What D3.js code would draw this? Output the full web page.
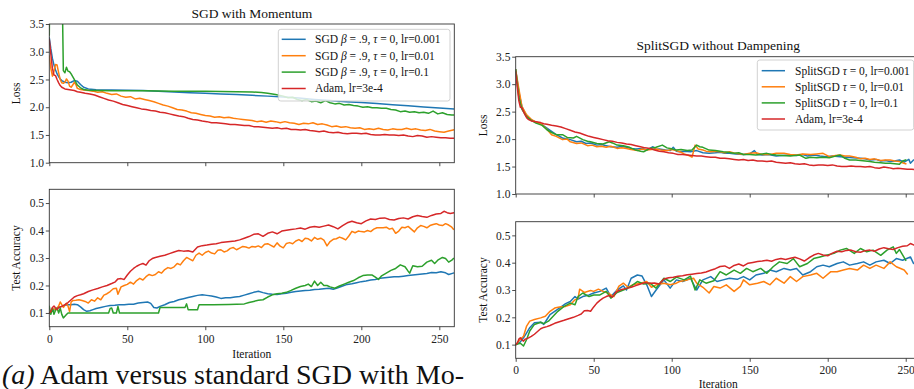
<!DOCTYPE html>
<html>
<head>
<meta charset="utf-8">
<script src="https://cdn.jsdelivr.net/npm/d3@7"></script>
<style>
  html, body { margin: 0; padding: 0; background: #fff; }
  svg { display: block; }
  svg text { font-family: "Liberation Serif", "Times New Roman", Times, serif; }
</style>
</head>
<body>
<svg id="fig" width="914" height="389"></svg>
<script>
// ---------- data ----------
const xTicks = [0, 50, 100, 150, 200, 250];
const lossTicks = [1.0, 1.5, 2.0, 2.5, 3.0, 3.5];
const accTicks = [0.1, 0.2, 0.3, 0.4, 0.5];

const momTitle = "SGD with Momentum";
const splitTitle = "SplitSGD without Dampening";
const momLabels = ["SGD β = .9, τ = 0, lr=0.001", "SGD β = .9, τ = 0, lr=0.01", "SGD β = .9, τ = 0, lr=0.1", "Adam, lr=3e-4"];
const splitLabels = ["SplitSGD τ = 0, lr=0.001", "SplitSGD τ = 0, lr=0.01", "SplitSGD τ = 0, lr=0.1", "Adam, lr=3e-4"];
const caption = ["(a)", " Adam versus standard SGD with Mo-"];

// Adam baseline (shared by both figures): [iteration, value]
const adamLoss = [[0,3.22],[1,2.95],[2,2.7],[3,2.58],[4,2.57],[5,2.5],[6,2.44],[7,2.39],[8,2.36],[10,2.33],[12,2.32],[14,2.31],[16,2.3],[18,2.28],[20,2.27],[23,2.25],[26,2.24],[29,2.22],[32,2.19],[35,2.16],[38,2.13],[41,2.11],[44,2.08],[47,2.05],[50,2.03],[53,2.01],[56,1.99],[59,1.97],[62,1.96],[65,1.94],[68,1.93],[71,1.91],[74,1.9],[77,1.88],[80,1.86],[83,1.84],[86,1.83],[89,1.8],[92,1.78],[95,1.77],[98,1.75],[101,1.74],[104,1.72],[107,1.72],[110,1.71],[113,1.7],[116,1.69],[119,1.69],[122,1.68],[125,1.67],[128,1.67],[131,1.65],[134,1.65],[137,1.64],[140,1.63],[143,1.62],[146,1.63],[149,1.61],[152,1.62],[155,1.6],[158,1.6],[161,1.59],[164,1.6],[167,1.58],[170,1.57],[173,1.56],[176,1.57],[179,1.55],[182,1.54],[185,1.55],[188,1.53],[191,1.52],[194,1.53],[197,1.53],[200,1.52],[203,1.53],[206,1.51],[209,1.5],[212,1.5],[215,1.51],[218,1.5],[221,1.5],[224,1.49],[227,1.5],[230,1.48],[233,1.47],[236,1.49],[239,1.48],[242,1.46],[245,1.47],[248,1.46],[251,1.45],[254,1.45],[257,1.44],[259,1.44]];
const adamAcc = [[0,0.1],[1,0.105],[2,0.12],[3,0.125],[4,0.118],[5,0.113],[6,0.12],[8,0.124],[10,0.13],[12,0.138],[14,0.148],[16,0.158],[18,0.163],[20,0.166],[22,0.17],[25,0.178],[28,0.184],[31,0.189],[34,0.195],[37,0.2],[40,0.207],[42,0.212],[44,0.224],[46,0.225],[48,0.222],[50,0.238],[52,0.252],[54,0.262],[56,0.27],[58,0.276],[60,0.28],[62,0.274],[64,0.29],[66,0.298],[68,0.302],[71,0.306],[74,0.31],[77,0.316],[80,0.322],[83,0.327],[86,0.325],[89,0.326],[92,0.322],[95,0.34],[98,0.345],[101,0.347],[104,0.35],[107,0.352],[110,0.356],[113,0.358],[116,0.36],[119,0.362],[122,0.366],[125,0.372],[128,0.378],[131,0.386],[134,0.388],[137,0.379],[140,0.39],[143,0.395],[146,0.388],[149,0.398],[152,0.401],[155,0.404],[158,0.406],[161,0.409],[164,0.405],[167,0.412],[170,0.415],[173,0.412],[176,0.416],[179,0.42],[182,0.414],[185,0.406],[188,0.418],[191,0.428],[194,0.434],[197,0.428],[200,0.425],[203,0.435],[206,0.442],[209,0.44],[212,0.445],[215,0.446],[218,0.44],[221,0.438],[224,0.444],[227,0.446],[230,0.442],[233,0.45],[236,0.455],[239,0.451],[242,0.448],[245,0.455],[248,0.46],[251,0.462],[253,0.47],[255,0.465],[257,0.462],[259,0.464]];

// SGD with momentum, beta = .9
const momLoss001 = [[0,3.25],[1,3.05],[2,2.88],[3,2.76],[4,2.67],[5,2.6],[6,2.55],[7,2.51],[8,2.48],[10,2.45],[12,2.44],[14,2.45],[16,2.48],[18,2.47],[20,2.41],[22,2.36],[25,2.33],[30,2.315],[40,2.31],[50,2.305],[60,2.3],[70,2.29],[80,2.275],[90,2.26],[100,2.25],[110,2.24],[120,2.23],[130,2.215],[140,2.2],[150,2.185],[160,2.165],[170,2.14],[180,2.12],[190,2.1],[200,2.085],[210,2.065],[220,2.045],[230,2.025],[240,2.005],[250,1.985],[259,1.97]];
const momLoss01 = [[0,2.92],[1,2.7],[2,2.56],[3,2.65],[4,2.77],[5,2.76],[6,2.62],[7,2.5],[8,2.44],[9,2.43],[10,2.45],[11,2.51],[12,2.47],[13,2.38],[14,2.36],[15,2.4],[16,2.45],[17,2.41],[18,2.34],[20,2.32],[22,2.31],[25,2.3],[28,2.29],[31,2.27],[34,2.28],[37,2.25],[40,2.23],[43,2.24],[46,2.2],[49,2.18],[52,2.19],[55,2.15],[58,2.16],[61,2.14],[64,2.12],[67,2.1],[70,2.07],[73,2.04],[76,2.02],[79,1.99],[82,1.96],[85,1.95],[88,1.93],[91,1.9],[94,1.89],[97,1.87],[100,1.85],[103,1.84],[106,1.82],[109,1.83],[112,1.81],[115,1.82],[118,1.8],[121,1.79],[124,1.78],[127,1.77],[130,1.76],[133,1.74],[136,1.75],[139,1.73],[142,1.75],[145,1.74],[148,1.72],[151,1.74],[154,1.72],[157,1.71],[160,1.69],[163,1.71],[166,1.7],[169,1.72],[172,1.69],[175,1.7],[178,1.68],[181,1.65],[184,1.66],[187,1.64],[190,1.65],[193,1.63],[196,1.62],[199,1.63],[202,1.6],[205,1.61],[208,1.6],[211,1.62],[214,1.6],[217,1.59],[220,1.61],[223,1.6],[226,1.6],[229,1.62],[232,1.6],[235,1.61],[238,1.59],[241,1.58],[244,1.6],[247,1.57],[250,1.56],[253,1.55],[256,1.57],[259,1.59]];
const momLoss1 = [[0,3.3],[1,6.2],[2,8.5],[4,7.9],[6,6.8],[8,4.6],[9,2.66],[10,2.62],[11,2.72],[12,2.65],[13,2.64],[14,2.6],[15,2.55],[16,2.5],[17,2.45],[18,2.4],[20,2.35],[22,2.32],[25,2.305],[30,2.3],[40,2.295],[60,2.295],[80,2.29],[100,2.29],[120,2.28],[130,2.275],[136,2.265],[140,2.25],[145,2.23],[150,2.2],[153,2.17],[156,2.18],[159,2.14],[162,2.12],[165,2.14],[168,2.1],[171,2.11],[174,2.08],[177,2.12],[180,2.08],[183,2.06],[186,2.07],[189,2.04],[192,2.05],[195,2.03],[198,2.02],[201,2.0],[204,2.01],[207,1.99],[210,1.99],[213,1.98],[216,1.98],[219,1.96],[222,1.95],[225,1.92],[228,1.93],[231,1.91],[234,1.92],[237,1.9],[240,1.91],[243,1.89],[246,1.93],[249,1.88],[252,1.9],[255,1.87],[258,1.86],[259,1.86]];
const momAcc001 = [[0,0.1],[2,0.108],[4,0.115],[6,0.12],[8,0.124],[10,0.128],[12,0.13],[14,0.13],[16,0.132],[18,0.13],[20,0.122],[22,0.112],[24,0.106],[26,0.108],[28,0.112],[30,0.116],[33,0.12],[36,0.124],[39,0.127],[42,0.128],[45,0.13],[48,0.13],[51,0.132],[54,0.132],[57,0.136],[60,0.138],[63,0.14],[65,0.135],[67,0.12],[69,0.118],[71,0.124],[74,0.13],[77,0.138],[80,0.142],[83,0.148],[86,0.152],[89,0.156],[92,0.16],[95,0.164],[98,0.166],[101,0.164],[104,0.162],[107,0.158],[110,0.153],[113,0.155],[116,0.155],[119,0.158],[122,0.16],[125,0.165],[128,0.17],[131,0.175],[134,0.179],[137,0.174],[140,0.17],[143,0.168],[146,0.167],[149,0.17],[152,0.172],[155,0.175],[158,0.178],[161,0.18],[164,0.182],[167,0.183],[170,0.185],[173,0.186],[176,0.188],[179,0.19],[182,0.186],[185,0.192],[188,0.198],[191,0.204],[194,0.206],[197,0.21],[200,0.214],[203,0.216],[206,0.22],[209,0.222],[212,0.226],[215,0.228],[218,0.23],[221,0.232],[224,0.232],[227,0.234],[230,0.236],[233,0.238],[236,0.24],[239,0.242],[242,0.244],[245,0.247],[248,0.246],[251,0.25],[254,0.246],[256,0.24],[259,0.245]];
const momAcc01 = [[0,0.1],[1,0.108],[2,0.112],[3,0.115],[4,0.11],[5,0.118],[6,0.125],[7,0.14],[8,0.13],[9,0.12],[10,0.128],[11,0.135],[12,0.125],[13,0.105],[14,0.14],[15,0.145],[17,0.146],[19,0.148],[21,0.145],[23,0.142],[25,0.136],[27,0.148],[29,0.143],[31,0.155],[33,0.148],[35,0.165],[37,0.17],[39,0.178],[41,0.188],[43,0.19],[44,0.168],[46,0.195],[48,0.2],[50,0.204],[52,0.212],[54,0.205],[56,0.218],[58,0.226],[60,0.22],[62,0.232],[64,0.24],[66,0.236],[68,0.24],[70,0.25],[72,0.245],[74,0.258],[76,0.265],[78,0.262],[80,0.268],[82,0.28],[84,0.275],[86,0.29],[88,0.302],[90,0.296],[92,0.29],[94,0.31],[96,0.318],[98,0.31],[100,0.32],[102,0.325],[104,0.318],[106,0.315],[108,0.328],[110,0.33],[112,0.322],[114,0.326],[116,0.335],[118,0.338],[120,0.33],[122,0.336],[124,0.342],[126,0.34],[128,0.336],[130,0.342],[132,0.34],[134,0.344],[136,0.338],[138,0.35],[140,0.352],[142,0.346],[144,0.34],[146,0.355],[148,0.343],[150,0.337],[152,0.353],[154,0.356],[156,0.352],[158,0.362],[160,0.367],[162,0.36],[164,0.372],[166,0.37],[168,0.362],[170,0.375],[172,0.368],[174,0.372],[176,0.365],[178,0.344],[180,0.36],[182,0.368],[184,0.37],[186,0.376],[188,0.372],[190,0.366],[192,0.38],[194,0.397],[196,0.392],[198,0.398],[200,0.396],[202,0.395],[204,0.4],[206,0.396],[208,0.405],[210,0.41],[212,0.41],[214,0.41],[216,0.412],[218,0.405],[220,0.408],[222,0.39],[224,0.398],[226,0.412],[228,0.41],[230,0.415],[232,0.405],[234,0.395],[236,0.41],[238,0.418],[240,0.415],[242,0.41],[244,0.418],[246,0.422],[248,0.425],[250,0.42],[252,0.418],[254,0.425],[256,0.42],[258,0.412],[259,0.405]];
const momAcc1 = [[0,0.124],[1,0.095],[2,0.118],[3,0.095],[4,0.11],[5,0.118],[6,0.1],[7,0.118],[8,0.095],[9,0.082],[10,0.088],[11,0.094],[12,0.1],[14,0.1],[38,0.1],[39,0.116],[40,0.118],[41,0.1],[43,0.1],[44,0.124],[45,0.1],[70,0.1],[71,0.12],[87,0.12],[88,0.133],[89,0.112],[95,0.112],[96,0.13],[105,0.13],[115,0.131],[125,0.133],[128,0.138],[131,0.142],[134,0.146],[137,0.148],[140,0.158],[143,0.166],[146,0.17],[149,0.172],[152,0.175],[155,0.182],[158,0.19],[161,0.196],[164,0.2],[166,0.205],[168,0.196],[170,0.216],[172,0.2],[174,0.212],[176,0.2],[178,0.2],[180,0.195],[183,0.19],[186,0.198],[189,0.205],[192,0.212],[195,0.218],[198,0.228],[201,0.236],[204,0.238],[207,0.238],[209,0.23],[211,0.222],[213,0.235],[216,0.245],[219,0.255],[222,0.262],[225,0.275],[228,0.268],[230,0.252],[231,0.245],[233,0.272],[236,0.268],[239,0.27],[242,0.285],[245,0.292],[247,0.28],[249,0.292],[252,0.302],[254,0.298],[256,0.285],[258,0.292],[259,0.298]];

// SplitSGD without dampening
const splitLoss001 = [[0,3.26],[2,2.86],[4,2.59],[7,2.42],[10,2.35],[13,2.31],[17,2.26],[20,2.2],[23,2.14],[26,2.08],[30,2.02],[35,1.99],[39,1.95],[42,1.96],[45,1.92],[48,1.93],[52,1.89],[55,1.9],[58,1.88],[61,1.86],[65,1.85],[68,1.87],[71,1.85],[74,1.83],[77,1.82],[81,1.83],[84,1.8],[88,1.86],[90,1.81],[92,1.82],[96,1.8],[99,1.79],[101,1.85],[103,1.78],[105,1.77],[108,1.78],[112,1.77],[116,1.79],[120,1.75],[124,1.74],[128,1.75],[131,1.76],[134,1.74],[137,1.74],[141,1.73],[146,1.72],[150,1.73],[153,1.79],[155,1.72],[158,1.71],[162,1.72],[167,1.69],[171,1.7],[176,1.71],[180,1.7],[184,1.72],[187,1.69],[191,1.71],[195,1.69],[199,1.68],[203,1.69],[208,1.68],[212,1.67],[216,1.66],[221,1.65],[224,1.64],[227,1.62],[231,1.63],[234,1.6],[237,1.61],[240,1.59],[243,1.6],[246,1.62],[249,1.58],[252,1.63],[253,1.56],[255,1.62],[259,1.61]];
const splitLoss01 = [[0,3.26],[2,2.92],[4,2.59],[7,2.44],[10,2.36],[13,2.31],[17,2.26],[20,2.18],[23,2.08],[26,2.05],[30,1.99],[33,2.0],[35,1.95],[39,1.92],[42,1.93],[46,1.88],[49,1.89],[52,1.86],[55,1.87],[58,1.85],[61,1.87],[65,1.83],[68,1.84],[71,1.83],[74,1.81],[78,1.79],[81,1.82],[84,1.8],[87,1.81],[90,1.82],[93,1.8],[97,1.79],[100,1.81],[103,1.79],[106,1.76],[108,1.73],[111,1.7],[113,1.67],[115,1.89],[117,1.82],[120,1.8],[122,1.78],[125,1.77],[128,1.78],[131,1.77],[134,1.75],[137,1.77],[141,1.74],[146,1.72],[150,1.74],[154,1.75],[158,1.72],[163,1.72],[167,1.74],[172,1.74],[176,1.72],[180,1.71],[184,1.73],[189,1.72],[193,1.73],[197,1.74],[201,1.68],[205,1.7],[208,1.71],[211,1.69],[214,1.69],[218,1.67],[221,1.64],[224,1.65],[227,1.63],[230,1.64],[234,1.61],[237,1.62],[240,1.62],[243,1.6],[246,1.59],[248,1.57],[250,1.55]];
const splitLoss1 = [[0,3.26],[2,2.77],[4,2.54],[7,2.41],[10,2.34],[13,2.29],[17,2.25],[20,2.17],[23,2.12],[26,2.08],[30,2.08],[33,2.03],[37,2.02],[39,2.05],[43,1.99],[46,1.96],[48,1.95],[52,1.92],[56,1.91],[60,1.95],[62,1.93],[65,1.89],[69,1.88],[73,1.85],[77,1.8],[80,1.78],[82,1.77],[86,1.83],[90,1.85],[94,1.89],[97,1.84],[99,1.83],[103,1.8],[106,1.81],[110,1.79],[113,1.8],[116,1.89],[118,1.86],[120,1.85],[124,1.8],[128,1.79],[133,1.77],[136,1.76],[140,1.74],[143,1.75],[146,1.72],[150,1.72],[154,1.71],[158,1.73],[161,1.74],[164,1.72],[167,1.71],[171,1.7],[176,1.69],[179,1.7],[182,1.71],[186,1.65],[189,1.67],[193,1.66],[197,1.67],[201,1.66],[205,1.69],[208,1.71],[211,1.65],[214,1.62],[218,1.62],[221,1.61],[224,1.6],[227,1.59],[230,1.58],[234,1.57],[237,1.56],[240,1.56],[243,1.55],[246,1.54],[248,1.6],[250,1.62]];
const splitAcc001 = [[0,0.1],[3,0.11],[5,0.125],[7,0.143],[9,0.162],[12,0.18],[16,0.182],[18,0.174],[20,0.192],[22,0.21],[25,0.222],[28,0.234],[32,0.25],[35,0.258],[38,0.276],[40,0.267],[43,0.276],[47,0.282],[50,0.289],[54,0.295],[58,0.307],[61,0.276],[65,0.3],[69,0.315],[71,0.3],[74,0.343],[78,0.355],[81,0.351],[84,0.319],[87,0.276],[90,0.3],[95,0.337],[99,0.307],[103,0.337],[107,0.331],[112,0.343],[116,0.3],[120,0.337],[125,0.349],[129,0.331],[133,0.337],[137,0.343],[142,0.339],[146,0.349],[150,0.337],[154,0.355],[159,0.361],[163,0.373],[167,0.367],[172,0.379],[176,0.373],[180,0.379],[184,0.355],[189,0.367],[193,0.385],[197,0.391],[201,0.385],[206,0.397],[210,0.403],[214,0.391],[219,0.397],[223,0.403],[227,0.391],[231,0.403],[236,0.409],[240,0.397],[244,0.415],[248,0.409],[253,0.421],[255,0.397],[259,0.4]];
const splitAcc01 = [[0,0.1],[3,0.12],[5,0.131],[7,0.168],[9,0.186],[12,0.192],[16,0.198],[19,0.204],[22,0.222],[25,0.234],[28,0.238],[32,0.24],[35,0.246],[38,0.264],[40,0.27],[41,0.303],[44,0.291],[48,0.298],[50,0.295],[53,0.303],[56,0.295],[59,0.289],[63,0.276],[66,0.313],[69,0.325],[72,0.31],[75,0.319],[80,0.325],[84,0.331],[87,0.31],[90,0.319],[95,0.325],[99,0.319],[103,0.325],[105,0.331],[110,0.337],[114,0.343],[116,0.325],[120,0.31],[124,0.289],[127,0.313],[131,0.307],[135,0.319],[140,0.295],[144,0.313],[146,0.337],[150,0.319],[155,0.325],[159,0.331],[163,0.319],[167,0.343],[172,0.325],[176,0.349],[180,0.331],[184,0.349],[189,0.355],[193,0.361],[197,0.343],[202,0.367],[206,0.367],[210,0.373],[214,0.379],[219,0.373],[223,0.391],[227,0.379],[231,0.391],[236,0.379],[240,0.403],[244,0.385],[249,0.373],[251,0.359]];
const splitAcc1 = [[0,0.1],[3,0.105],[5,0.095],[7,0.119],[9,0.15],[12,0.174],[16,0.182],[18,0.177],[21,0.186],[24,0.204],[27,0.222],[31,0.24],[35,0.252],[38,0.246],[40,0.276],[43,0.289],[47,0.276],[50,0.282],[54,0.282],[58,0.295],[61,0.27],[65,0.291],[69,0.3],[73,0.31],[78,0.331],[82,0.322],[86,0.325],[90,0.307],[95,0.343],[99,0.331],[103,0.347],[108,0.337],[112,0.351],[115,0.3],[118,0.337],[122,0.325],[127,0.334],[131,0.367],[135,0.355],[140,0.373],[144,0.361],[148,0.379],[152,0.367],[157,0.379],[161,0.361],[165,0.385],[169,0.403],[174,0.397],[178,0.415],[182,0.385],[187,0.397],[191,0.415],[195,0.421],[199,0.427],[204,0.434],[208,0.446],[212,0.452],[217,0.434],[221,0.452],[225,0.44],[229,0.446],[234,0.427],[238,0.446],[242,0.458],[244,0.434],[246,0.448],[250,0.409]];

// ---------- drawing ----------
const FONT = '"Liberation Serif", "Times New Roman", Times, serif';
const COLORS = ["#1f77b4", "#ff7f0e", "#2ca02c", "#d62728"];
const X_DOMAIN = [0, 259.6];
const svg = d3.select("#fig").attr("font-family", FONT);
svg.append("rect").attr("width", 914).attr("height", 389).attr("fill", "#fff");

let clipCount = 0;

function drawPanel(box, yDomain, yTickVals, series, showXLabels) {
  const g = svg.append("g").attr("transform", `translate(${box.left},${box.top})`);
  const x = d3.scaleLinear().domain(X_DOMAIN).range([0, box.width]);
  const y = d3.scaleLinear().domain(yDomain).range([box.height, 0]);

  const id = "plotclip" + (clipCount++);
  g.append("clipPath").attr("id", id)
    .append("rect").attr("width", box.width).attr("height", box.height);

  const line = d3.line().x(d => x(d[0])).y(d => y(d[1]));
  g.append("g").attr("clip-path", `url(#${id})`)
    .selectAll("path").data(series).join("path")
    .attr("d", d => line(d))
    .attr("fill", "none")
    .attr("stroke", (d, i) => COLORS[i])
    .attr("stroke-width", 1.5)
    .attr("stroke-linejoin", "round")
    .attr("stroke-linecap", "square");

  const yAxis = g.append("g")
    .call(d3.axisLeft(y).tickValues(yTickVals).tickFormat(d3.format(".1f"))
      .tickSize(3.5).tickPadding(1.8));
  const xAxis = g.append("g").attr("transform", `translate(0,${box.height})`)
    .call(d3.axisBottom(x).tickValues(xTicks)
      .tickFormat(showXLabels ? d3.format("d") : () => "")
      .tickSize(3.5).tickPadding(4.3));
  [yAxis, xAxis].forEach(a => {
    a.select(".domain").remove();
    a.attr("font-family", FONT).attr("font-size", 11.5);
    a.selectAll("line").attr("stroke", "#222").attr("stroke-width", 0.8);
    a.selectAll("text").attr("fill", "#222");
  });

  g.append("rect")
    .attr("width", box.width).attr("height", box.height)
    .attr("fill", "none").attr("stroke", "#333").attr("stroke-width", 0.9);
  return g;
}

function richText(sel, str) {
  str.split(/([βτ])/).forEach(part => {
    if (!part) return;
    const t = sel.append("tspan").text(part);
    if (part === "β" || part === "τ") t.attr("font-style", "italic");
  });
}

function drawLegend(spec, labels) {
  const g = svg.append("g");
  g.append("rect")
    .attr("x", spec.x).attr("y", spec.y).attr("width", spec.w).attr("height", spec.h)
    .attr("rx", 2.5).attr("fill", "#fff").attr("fill-opacity", 0.8)
    .attr("stroke", "#ccc").attr("stroke-width", 0.9);
  labels.forEach((lab, i) => {
    const cy = spec.row0 + i * spec.step;
    g.append("line")
      .attr("x1", spec.lineX0).attr("x2", spec.lineX1)
      .attr("y1", cy).attr("y2", cy)
      .attr("stroke", COLORS[i]).attr("stroke-width", 1.5);
    const t = g.append("text")
      .attr("x", spec.textX).attr("y", cy).attr("dy", "0.34em")
      .attr("font-family", FONT).attr("font-size", 11.5).attr("fill", "#111");
    richText(t, lab);
  });
}

function yLabel(xPos, yPos, txt) {
  svg.append("text")
    .attr("transform", `translate(${xPos},${yPos}) rotate(-90)`)
    .attr("text-anchor", "middle").attr("font-family", FONT)
    .attr("font-size", 11.5).attr("fill", "#111")
    .text(txt);
}

function centerText(xPos, yPos, txt, size) {
  svg.append("text")
    .attr("x", xPos).attr("y", yPos).attr("text-anchor", "middle")
    .attr("font-family", FONT).attr("font-size", size).attr("fill", "#111").text(txt);
}

// left figure
const momTopBox = { left: 49.3, top: 24, width: 405, height: 138.7 };
const momBotBox = { left: 49.3, top: 189.3, width: 405, height: 137.4 };
drawPanel(momTopBox, [1.0, 3.5], lossTicks, [momLoss001, momLoss01, momLoss1, adamLoss], false);
drawPanel(momBotBox, [0.05, 0.55], accTicks, [momAcc001, momAcc01, momAcc1, adamAcc], true);
centerText(251.8, 17.8, momTitle, 13.5);
centerText(251.8, 358, "Iteration", 11.5);
yLabel(19.5, 93.3, "Loss");
yLabel(19.5, 258, "Test Accuracy");
drawLegend({ x: 278.3, y: 29.3, w: 171.7, h: 71.7, row0: 39.3, step: 16.4, lineX0: 281.7, lineX1: 305.7, textX: 315 }, momLabels);

// right figure
const splitTopBox = { left: 515.7, top: 56.7, width: 405, height: 137.3 };
const splitBotBox = { left: 515.7, top: 221.7, width: 405, height: 136.6 };
drawPanel(splitTopBox, [1.0, 3.5], lossTicks, [splitLoss001, splitLoss01, splitLoss1, adamLoss], false);
drawPanel(splitBotBox, [0.05, 0.55], accTicks, [splitAcc001, splitAcc01, splitAcc1, adamAcc], true);
centerText(718.2, 50, splitTitle, 13.5);
centerText(718.2, 388, "Iteration", 11.5);
yLabel(486.5, 125.3, "Loss");
yLabel(486.5, 290, "Test Accuracy");
drawLegend({ x: 757.3, y: 60, w: 156.4, h: 70, row0: 70.7, step: 16.1, lineX0: 761.7, lineX1: 785, textX: 795 }, splitLabels);

// subfigure caption
const cap = svg.append("text").attr("x", 2).attr("y", 384)
  .attr("font-family", FONT).attr("font-size", 28).attr("fill", "#111");
cap.append("tspan").attr("font-style", "italic").text(caption[0]);
cap.append("tspan").text(caption[1]);
</script>
</body>
</html>
